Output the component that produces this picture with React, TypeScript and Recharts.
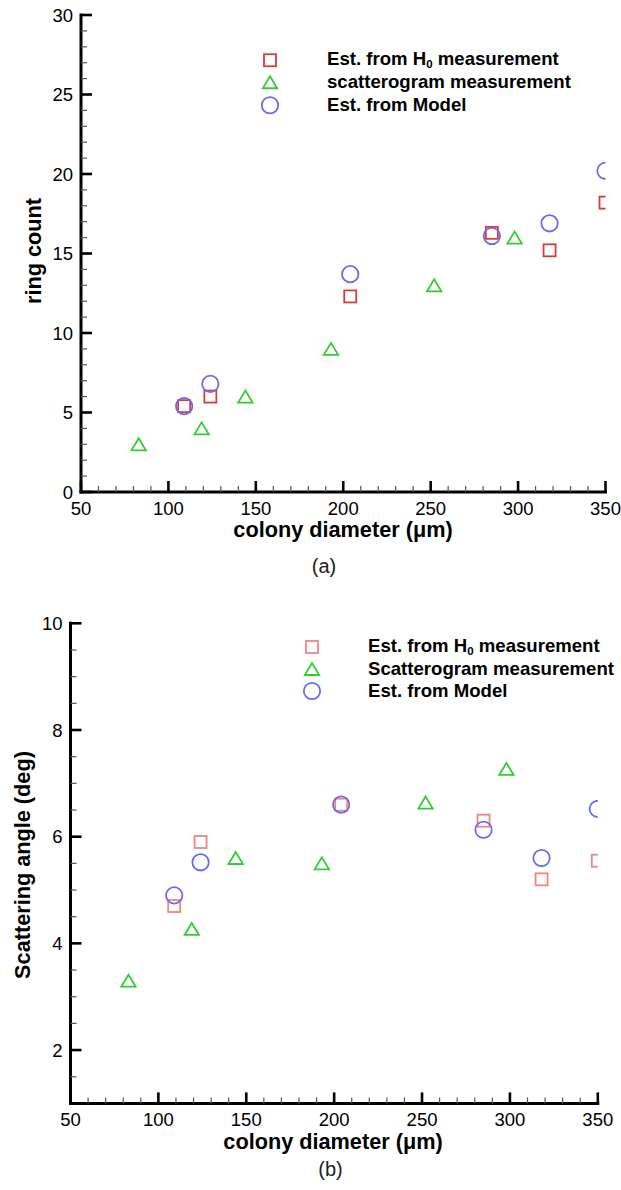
import React from 'react';
import { ScatterChart, Scatter, XAxis, YAxis, Legend } from 'recharts';

// ---------- data ----------
const seriesNamesA = ['Est. from H0 measurement', 'scatterogram measurement', 'Est. from Model'];
const seriesNamesB = ['Est. from H0 measurement', 'Scatterogram measurement', 'Est. from Model'];

const diameterHo = [109, 124, 204, 285, 318, 350];
const diameterScat = [83, 119, 144, 193, 252, 298];
const diameterModel = [109, 124, 204, 285, 318, 350];

const ringHo = [5.4, 6.0, 12.3, 16.3, 15.2, 18.2];
const ringScat = [3.0, 4.0, 6.0, 9.0, 13.0, 16.0];
const ringModel = [5.4, 6.8, 13.7, 16.1, 16.9, 20.2];

const angleHo = [4.7, 5.9, 6.6, 6.3, 5.2, 5.55];
const angleScat = [3.3, 4.27, 5.6, 5.5, 6.64, 7.27];
const angleModel = [4.9, 5.52, 6.6, 6.13, 5.6, 6.52];

const xMajorTicks = [50, 100, 150, 200, 250, 300, 350];
const xAllTicks = [50, 60, 70, 80, 90, 100, 110, 120, 130, 140, 150, 160, 170, 180, 190, 200, 210, 220, 230, 240, 250, 260, 270, 280, 290, 300, 310, 320, 330, 340, 350];
const ringMajorTicks = [0, 5, 10, 15, 20, 25, 30];
const ringAllTicks = [0, 1, 2, 3, 4, 5, 6, 7, 8, 9, 10, 11, 12, 13, 14, 15, 16, 17, 18, 19, 20, 21, 22, 23, 24, 25, 26, 27, 28, 29, 30];
const angleMajorTicks = [2, 4, 6, 8, 10];
const angleAllTicks = [1.5, 2, 2.5, 3, 3.5, 4, 4.5, 5, 5.5, 6, 6.5, 7, 7.5, 8, 8.5, 9, 9.5, 10];

// ---------- helpers ----------
const toPoints = (xs: number[], ys: number[]) => xs.map((x, i) => ({ x, y: ys[i] }));

const FONT = '"Liberation Sans", Arial, Helvetica, sans-serif';

const Marker = ({ kind, cx, cy, color }: { kind: string; cx: number; cy: number; color: string }) => {
  if (cx == null || cy == null) return null;
  if (kind === 'square') {
    return <rect x={cx - 6} y={cy - 6} width={12} height={12} fill="none" stroke={color} strokeWidth={1.8} />;
  }
  if (kind === 'triangle') {
    const pts = `${cx},${cy - 6} ${cx - 7.2},${cy + 6} ${cx + 7.2},${cy + 6}`;
    return <polygon points={pts} fill="none" stroke={color} strokeWidth={1.8} strokeLinejoin="miter" />;
  }
  return <circle cx={cx} cy={cy} r={8.2} fill="none" stroke={color} strokeWidth={1.8} />;
};

const XTick = (props: any) => {
  const { x, y, payload, majors } = props;
  const v = payload.value;
  const major = majors.includes(v);
  return (
    <g>
      <line x1={x} y1={y} x2={x} y2={y - (major ? 11 : 6)} stroke={major ? '#000' : '#555'} strokeWidth={major ? 2.6 : 1.2} />
      {major && (
        <text x={x} y={y + 22.5} textAnchor="middle" fontFamily={FONT} fontSize={18.5} fill="#000">
          {v}
        </text>
      )}
    </g>
  );
};

const YTick = (props: any) => {
  const { x, y, payload, majors } = props;
  const v = payload.value;
  const major = majors.includes(v);
  return (
    <g>
      <line x1={x} y1={y} x2={x + (major ? 11 : 6)} y2={y} stroke={major ? '#000' : '#555'} strokeWidth={major ? 2.6 : 1.2} />
      {major && (
        <text x={x - 8} y={y + 6.6} textAnchor="end" fontFamily={FONT} fontSize={18.5} fill="#000">
          {v}
        </text>
      )}
    </g>
  );
};

const renderName = (name: string) => {
  const idx = name.indexOf('H0');
  if (idx < 0) return name;
  return (
    <>
      {name.slice(0, idx)}H
      <span style={{ fontSize: '0.62em', position: 'relative', top: '0.3em' }}>0</span>
      {name.slice(idx + 2)}
    </>
  );
};

const makeLegend = (names: string[], gap: number, rowH: number) => (props: any) => {
  const items = [...(props.payload || [])].sort(
    (a: any, b: any) => names.indexOf(a.value) - names.indexOf(b.value)
  );
  return (
    <div>
      {items.map((e: any, i: number) => (
        <div key={i} style={{ display: 'flex', alignItems: 'center', height: rowH }}>
          <svg width={24} height={rowH} style={{ display: 'block', flex: '0 0 auto' }}>
            <Marker kind={e.type} cx={12} cy={rowH / 2} color={e.color} />
          </svg>
          <span
            style={{
              marginLeft: gap,
              fontFamily: FONT,
              fontWeight: 'bold',
              fontSize: 18.6,
              lineHeight: `${rowH}px`,
              whiteSpace: 'nowrap',
              color: '#000',
            }}
          >
            {renderName(e.value)}
          </span>
        </div>
      ))}
    </div>
  );
};

const titleStyle: React.CSSProperties = {
  position: 'absolute',
  fontFamily: FONT,
  fontWeight: 'bold',
  fontSize: 21.7,
  lineHeight: '24px',
  whiteSpace: 'nowrap',
  color: '#000',
};

const captionStyle: React.CSSProperties = {
  position: 'absolute',
  fontFamily: FONT,
  fontSize: 20,
  lineHeight: '22px',
  whiteSpace: 'nowrap',
  color: '#222',
};

const RED_A = '#d93a3a';
const RED_B = '#ec8585';
const GREEN = '#33cc33';
const BLUE = '#6b6bef';

const axisLineStyle = { stroke: '#000', strokeWidth: 3, strokeLinecap: 'square' as const };

export default function App() {
  return (
    <div style={{ position: 'absolute', left: 0, top: 0, width: 621, height: 1190, background: '#fff', overflow: 'hidden' }}>
      {/* Chart (a) */}
      <ScatterChart width={621} height={580} margin={{ top: 15, right: 15.5, bottom: 58, left: 21 }}>
        <XAxis
          type="number"
          dataKey="x"
          domain={[50, 350]}
          ticks={xAllTicks}
          interval={0}
          tickSize={0}
          tickMargin={0}
          tickLine={false}
          axisLine={axisLineStyle}
          height={30}
          tick={(p: any) => <XTick {...p} majors={xMajorTicks} />}
          allowDataOverflow
        />
        <YAxis
          type="number"
          dataKey="y"
          domain={[0, 30]}
          ticks={ringAllTicks}
          interval={0}
          tickSize={0}
          tickMargin={0}
          tickLine={false}
          axisLine={axisLineStyle}
          width={60}
          tick={(p: any) => <YTick {...p} majors={ringMajorTicks} />}
          allowDataOverflow
        />
        <Legend
          layout="horizontal"
          verticalAlign="middle"
          align="center"
          wrapperStyle={{ left: 258, top: 48.75, width: 350 }}
          content={makeLegend(seriesNamesA, 45, 22.5)}
        />
        <Scatter
          name={seriesNamesA[0]}
          data={toPoints(diameterHo, ringHo)}
          fill={RED_A}
          legendType="square"
          isAnimationActive={false}
          shape={(p: any) => <Marker kind="square" cx={p.cx} cy={p.cy} color={RED_A} />}
        />
        <Scatter
          name={seriesNamesA[1]}
          data={toPoints(diameterScat, ringScat)}
          fill={GREEN}
          legendType="triangle"
          isAnimationActive={false}
          shape={(p: any) => <Marker kind="triangle" cx={p.cx} cy={p.cy} color={GREEN} />}
        />
        <Scatter
          name={seriesNamesA[2]}
          data={toPoints(diameterModel, ringModel)}
          fill={BLUE}
          legendType="circle"
          isAnimationActive={false}
          shape={(p: any) => <Marker kind="circle" cx={p.cx} cy={p.cy} color={BLUE} />}
        />
      </ScatterChart>

      {/* Chart (b) */}
      <ScatterChart width={621} height={610} margin={{ top: 43.3, right: 23.2, bottom: 56.6, left: 10.5 }}>
        <XAxis
          type="number"
          dataKey="x"
          domain={[50, 350]}
          ticks={xAllTicks}
          interval={0}
          tickSize={0}
          tickMargin={0}
          tickLine={false}
          axisLine={axisLineStyle}
          height={30}
          tick={(p: any) => <XTick {...p} majors={xMajorTicks} />}
          allowDataOverflow
        />
        <YAxis
          type="number"
          dataKey="y"
          domain={[1, 10]}
          ticks={angleAllTicks}
          interval={0}
          tickSize={0}
          tickMargin={0}
          tickLine={false}
          axisLine={axisLineStyle}
          width={60}
          tick={(p: any) => <YTick {...p} majors={angleMajorTicks} />}
          allowDataOverflow
        />
        <Legend
          layout="horizontal"
          verticalAlign="middle"
          align="center"
          wrapperStyle={{ left: 299.7, top: 55.7, width: 321 }}
          content={makeLegend(seriesNamesB, 44.3, 22)}
        />
        <Scatter
          name={seriesNamesB[0]}
          data={toPoints(diameterHo, angleHo)}
          fill={RED_B}
          legendType="square"
          isAnimationActive={false}
          shape={(p: any) => <Marker kind="square" cx={p.cx} cy={p.cy} color={RED_B} />}
        />
        <Scatter
          name={seriesNamesB[1]}
          data={toPoints(diameterScat, angleScat)}
          fill={GREEN}
          legendType="triangle"
          isAnimationActive={false}
          shape={(p: any) => <Marker kind="triangle" cx={p.cx} cy={p.cy} color={GREEN} />}
        />
        <Scatter
          name={seriesNamesB[2]}
          data={toPoints(diameterModel, angleModel)}
          fill={BLUE}
          legendType="circle"
          isAnimationActive={false}
          shape={(p: any) => <Marker kind="circle" cx={p.cx} cy={p.cy} color={BLUE} />}
        />
      </ScatterChart>

      {/* Titles & captions */}
      <div style={{ ...titleStyle, left: 343, top: 518, transform: 'translateX(-50%)' }}>colony diameter (μm)</div>
      <div style={{ ...titleStyle, left: 34, top: 251, transform: 'translate(-50%, -50%) rotate(-90deg)' }}>ring count</div>
      <div style={{ ...captionStyle, left: 324, top: 555, transform: 'translateX(-50%)' }}>(a)</div>

      <div style={{ ...titleStyle, left: 333, top: 1130, transform: 'translateX(-50%)' }}>colony diameter (μm)</div>
      <div style={{ ...titleStyle, left: 23, top: 865, transform: 'translate(-50%, -50%) rotate(-90deg)' }}>Scattering angle (deg)</div>
      <div style={{ ...captionStyle, left: 330.5, top: 1158, transform: 'translateX(-50%)' }}>(b)</div>
    </div>
  );
}
